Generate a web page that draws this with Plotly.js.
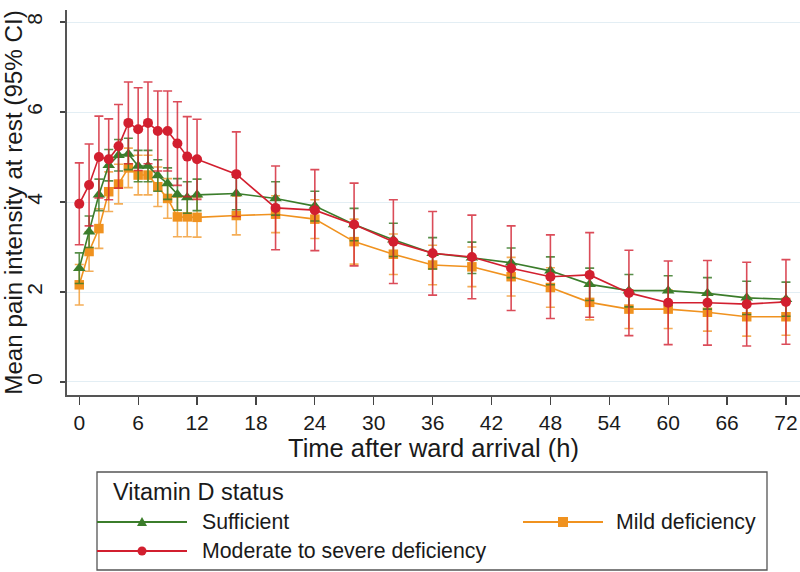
<!DOCTYPE html>
<html>
<head>
<meta charset="utf-8">
<script src="https://cdn.plot.ly/plotly-3.0.1.min.js"></script>
<style>
  body { margin: 0; background: #fff; }
  #myDiv { width: 800px; height: 572px; }
</style>
</head>
<body>
<div id="myDiv"></div>
<script>
// hours after ward arrival
let hours = [0, 1, 2, 3, 4, 5, 6, 7, 8, 9, 10, 11, 12, 16, 20, 24, 28, 32, 36, 40, 44, 48, 52, 56, 60, 64, 68, 72]

// mean pain at rest per group
let sufficient = [2.53, 3.34, 4.16, 4.82, 5.04, 5.07, 4.8, 4.8, 4.59, 4.41, 4.17, 4.1, 4.16, 4.19, 4.08, 3.91, 3.5, 3.16, 2.86, 2.76, 2.65, 2.47, 2.17, 2.03, 2.03, 1.97, 1.87, 1.84]
let sufficientErr = [0.34, 0.35, 0.35, 0.35, 0.35, 0.35, 0.35, 0.35, 0.35, 0.35, 0.35, 0.35, 0.35, 0.36, 0.37, 0.33, 0.36, 0.37, 0.35, 0.35, 0.33, 0.31, 0.36, 0.36, 0.33, 0.35, 0.37, 0.38]

let mild = [2.16, 2.9, 3.41, 4.23, 4.4, 4.76, 4.6, 4.6, 4.34, 4.08, 3.67, 3.67, 3.66, 3.7, 3.73, 3.62, 3.12, 2.84, 2.6, 2.56, 2.34, 2.1, 1.77, 1.62, 1.62, 1.55, 1.45, 1.45]
let mildErr = [0.45, 0.44, 0.44, 0.44, 0.44, 0.44, 0.44, 0.44, 0.44, 0.44, 0.44, 0.44, 0.44, 0.43, 0.41, 0.43, 0.5, 0.45, 0.44, 0.44, 0.43, 0.44, 0.39, 0.43, 0.43, 0.42, 0.43, 0.41]

let moderate = [3.96, 4.38, 5.0, 4.95, 5.24, 5.76, 5.62, 5.76, 5.58, 5.58, 5.3, 5.01, 4.95, 4.62, 3.87, 3.82, 3.5, 3.12, 2.86, 2.78, 2.53, 2.34, 2.38, 1.98, 1.76, 1.76, 1.73, 1.78]
let moderateErr = [0.91, 0.91, 0.91, 0.9, 0.93, 0.91, 0.92, 0.91, 0.89, 0.89, 0.93, 0.89, 0.89, 0.94, 0.93, 0.9, 0.92, 0.93, 0.93, 0.93, 0.94, 0.93, 0.94, 0.95, 0.93, 0.94, 0.93, 0.94]

let yTicks = [0, 2, 4, 6, 8]
let xTicks = [0, 6, 12, 18, 24, 30, 36, 42, 48, 54, 60, 66, 72]

let legendTitle = 'Vitamin D status'
let groupNames = ['Sufficient', 'Mild deficiency', 'Moderate to severe deficiency']
let groupColors = ['#3b7d2b', '#f0921f', '#d21f2f']

let fontFam = '"Liberation Sans", Arial, sans-serif'

// plot box in pixels (used for the hand-made legend below the axes)
let M = {l: 67, r: 0, t: 10, b: 177}
let W = 800, H = 572
let plotW = W - M.l - M.r
let plotH = H - M.t - M.b
function px(x){ return (x - M.l) / plotW }
function py(y){ return (H - M.b - y) / plotH }

function makeTrace(name, yy, err, col, errCol, sym, size){
	return {
		x: hours,
		y: yy,
		name: name,
		type: 'scatter',
		mode: 'lines+markers',
		showlegend: false,
		line: {color: col, width: 1.6},
		marker: {color: col, symbol: sym, size: size},
		error_y: {
			type: 'data',
			array: err,
			visible: true,
			color: errCol,
			thickness: 1.6,
			width: 4.5
		}
	}
}

// drawing order: orange under green under red
var data = [
	makeTrace(groupNames[1], mild, mildErr, groupColors[1], 'rgba(240,146,31,0.75)', 'square', 9.5),
	makeTrace(groupNames[0], sufficient, sufficientErr, groupColors[0], 'rgba(59,125,43,0.85)', 'triangle-up', 11),
	makeTrace(groupNames[2], moderate, moderateErr, groupColors[2], 'rgba(210,31,47,0.8)', 'circle', 10)
]

// legend: box, title, three keys
let shapes = []
let annotations = []
shapes.push({type: 'rect', xref: 'paper', yref: 'paper', x0: px(97), x1: px(767), y0: py(472), y1: py(570),
	line: {color: '#555', width: 1.3}, fillcolor: 'rgba(0,0,0,0)'})
annotations.push({xref: 'paper', yref: 'paper', x: px(111), y: py(492), xanchor: 'left', yanchor: 'middle',
	text: legendTitle, showarrow: false, font: {size: 23.5, color: '#1a1a1a'}})

// [line start, line end, text start, row y]
let keyPos = [[97, 187, 200, 522], [523, 603, 614, 522], [97, 187, 200, 551]]
for (let k = 0; k < groupNames.length; k++){
	let x0 = keyPos[k][0], x1 = keyPos[k][1], ky = keyPos[k][3], col = groupColors[k]
	shapes.push({type: 'line', xref: 'paper', yref: 'paper', x0: px(x0), x1: px(x1), y0: py(ky), y1: py(ky),
		line: {color: col, width: 1.8}})
	let cx = (x0 + x1) / 2
	if (k == 0){
		shapes.push({type: 'path', xref: 'paper', yref: 'paper',
			path: `M ${px(cx - 5)} ${py(ky + 4)} L ${px(cx + 5)} ${py(ky + 4)} L ${px(cx)} ${py(ky - 5)} Z`,
			fillcolor: col, line: {width: 0}})
	}
	else if (k == 1){
		shapes.push({type: 'rect', xref: 'paper', yref: 'paper', x0: px(cx - 5), x1: px(cx + 5), y0: py(ky - 5), y1: py(ky + 5),
			fillcolor: col, line: {width: 0}})
	}
	else {
		shapes.push({type: 'circle', xref: 'paper', yref: 'paper', x0: px(cx - 4.5), x1: px(cx + 4.5), y0: py(ky - 4.5), y1: py(ky + 4.5),
			fillcolor: col, line: {width: 0}})
	}
	annotations.push({xref: 'paper', yref: 'paper', x: px(keyPos[k][2]), y: py(ky), xanchor: 'left', yanchor: 'middle',
		text: groupNames[k], showarrow: false, font: {size: 21.3, color: '#1a1a1a'}})
}

var layout = {
	width: W,
	height: H,
	margin: M,
	paper_bgcolor: '#ffffff',
	plot_bgcolor: '#ffffff',
	font: {family: fontFam, size: 21, color: '#1a1a1a'},
	showlegend: false,
	xaxis: {
		range: [-1.25, 73.43],
		tickvals: xTicks,
		ticks: 'outside',
		ticklen: 8,
		tickwidth: 1.3,
		tickcolor: '#444',
		showgrid: false,
		zeroline: false,
		showline: true,
		linecolor: '#555',
		linewidth: 1.6,
		tickfont: {size: 21},
		title: {text: 'Time after ward arrival (h)', font: {size: 25.5}, standoff: 4}
	},
	yaxis: {
		range: [-0.29, 8.27],
		tickvals: yTicks,
		tickangle: -90,
		ticks: 'outside',
		ticklen: 5,
		tickwidth: 1.3,
		tickcolor: '#444',
		ticklabelstandoff: 10,
		showgrid: true,
		gridcolor: '#e3eef4',
		gridwidth: 1,
		zeroline: false,
		showline: true,
		linecolor: '#555',
		linewidth: 1.6,
		tickfont: {size: 21},
		title: {text: 'Mean pain intensity at rest (95% CI)', font: {size: 24.2}, standoff: 4}
	},
	shapes: shapes,
	annotations: annotations
}

Plotly.newPlot('myDiv', data, layout, {displayModeBar: false, staticPlot: true})
</script>
</body>
</html>
